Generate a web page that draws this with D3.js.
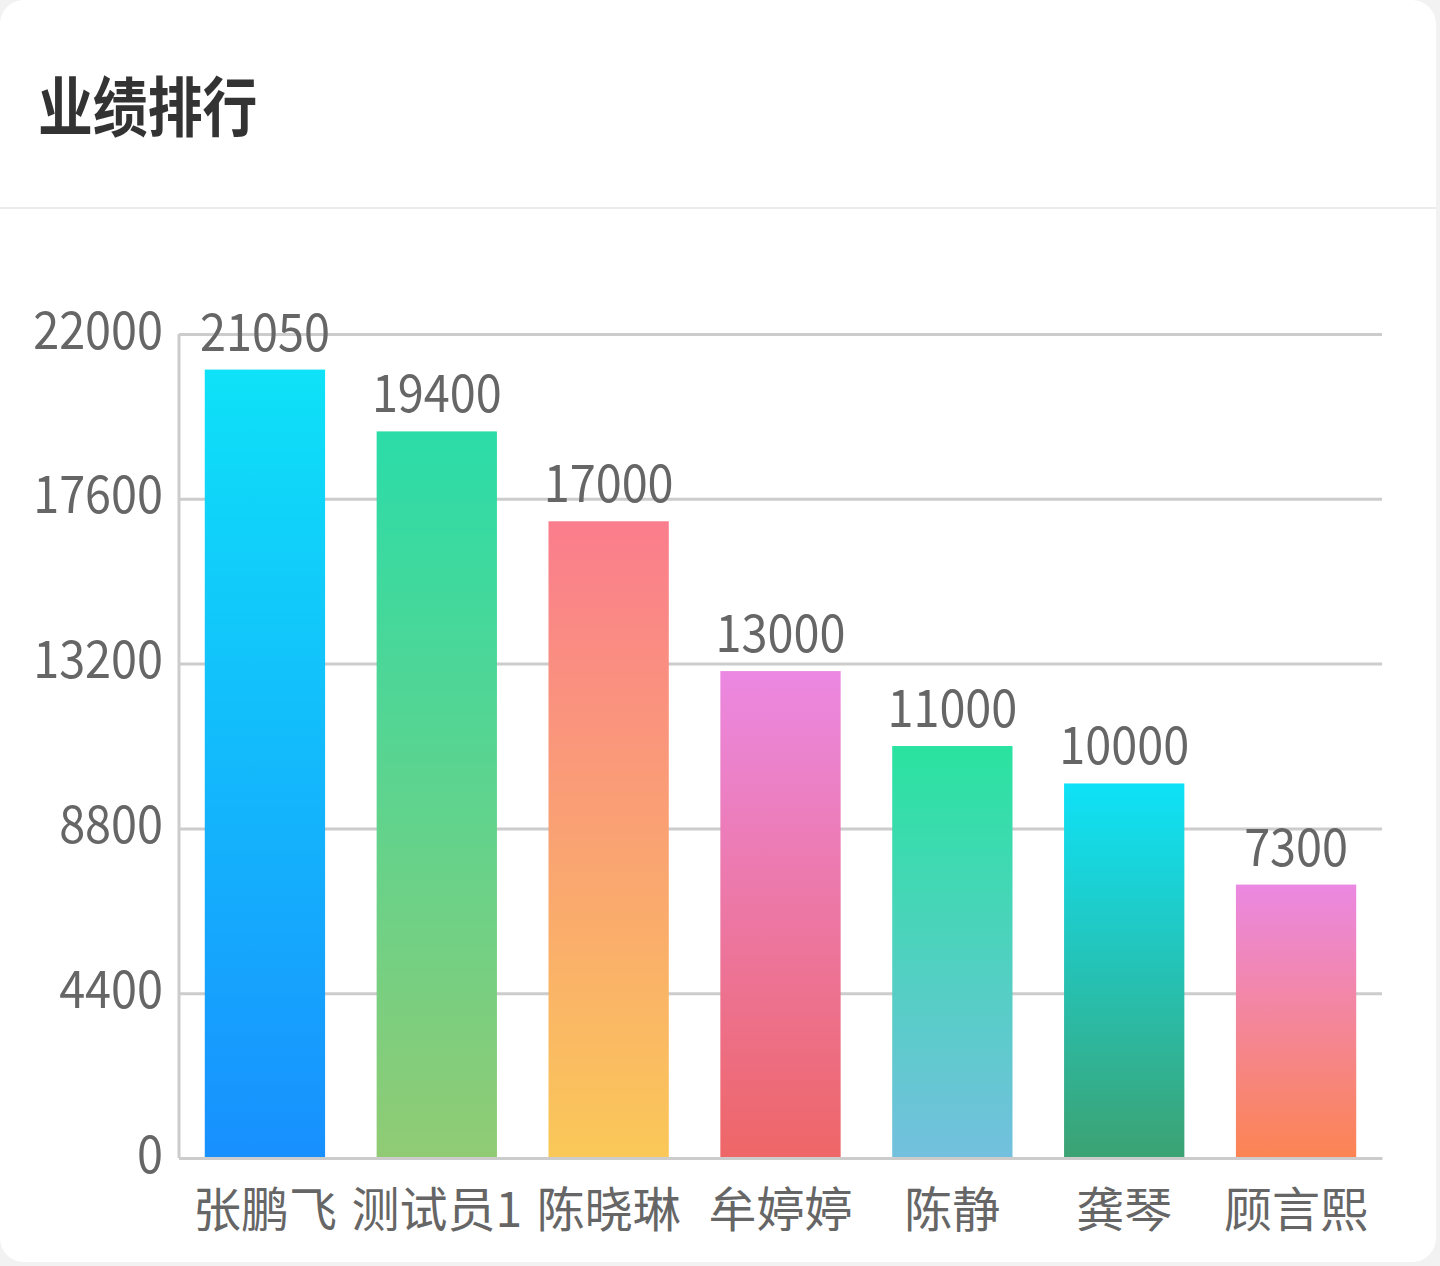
<!DOCTYPE html>
<html>
<head>
<meta charset="utf-8">
<script src="https://cdn.jsdelivr.net/npm/d3@7"></script>
<style>
  html, body { margin: 0; padding: 0; background: #f2f2f2; }
  svg { display: block; font-family: "Noto Sans CJK SC", "Noto Sans", sans-serif; }
</style>
</head>
<body>
<div id="chart"></div>
<script>
// chart data
const names = ['张鹏飞', '测试员1', '陈晓琳', '牟婷婷', '陈静', '龚琴', '顾言熙'];
const sales = [21050, 19400, 17000, 13000, 11000, 10000, 7300];
const yTicks = [0, 4400, 8800, 13200, 17600, 22000];
// gradient stops per bar (top -> bottom)
const topColors = ['#0ee2f8', '#2bdca8', '#fa7d8d', '#eb88e2', '#2ae3a0', '#0ee2f8', '#eb88e2'];
const bottomColors = ['#1890ff', '#91cb74', '#fac858', '#ee6666', '#73c0de', '#3ca272', '#fc8452'];

const W = 1440, H = 1266;
const plotLeft = 179, plotRight = 1382, plotTop = 334, plotBottom = 1158;
const numSqueeze = 0.9; // digits in the reference are a bit narrow

let svg = d3.select('#chart')
    .append('svg')
    .attr('width', W)
    .attr('height', H);

// card
svg.append('rect')
    .attr('x', 0).attr('y', 0)
    .attr('width', 1436).attr('height', 1262)
    .attr('rx', 24)
    .attr('fill', '#fff');

svg.append('text')
    .attr('transform', 'translate(38,131) scale(0.885,1.04)')
    .attr('font-size', 62)
    .attr('font-weight', 'bold')
    .attr('fill', '#333')
    .text('业绩排行');

svg.append('line')
    .attr('x1', 0).attr('x2', 1436)
    .attr('y1', 208).attr('y2', 208)
    .attr('stroke', '#ececec')
    .attr('stroke-width', 2);

let x = d3.scaleBand()
    .domain(names)
    .range([plotLeft, plotRight])
    .paddingInner(0.3)
    .paddingOuter(0.15);

let y = d3.scaleLinear()
    .domain([0, 22000])
    .range([plotBottom, plotTop]);

// gradients
let defs = svg.append('defs');
names.forEach((n, i) => {
    let g = defs.append('linearGradient')
        .attr('id', 'grad' + i)
        .attr('x1', 0).attr('y1', 0)
        .attr('x2', 0).attr('y2', 1);
    g.append('stop').attr('offset', '0%').attr('stop-color', topColors[i]);
    g.append('stop').attr('offset', '100%').attr('stop-color', bottomColors[i]);
});

// y axis with gridlines
let yAxis = svg.append('g')
    .attr('transform', `translate(${plotLeft},0)`)
    .call(d3.axisLeft(y)
        .tickValues(yTicks)
        .tickSize(-(plotRight - plotLeft))
        .tickPadding(16)
        .tickFormat(d3.format('d')));

yAxis.select('.domain').remove();
yAxis.selectAll('.tick line')
    .attr('stroke', '#cccccc')
    .attr('stroke-width', 3);
yAxis.selectAll('.tick text')
    .attr('x', 0)
    .attr('dy', 0)
    .attr('transform', `translate(-16,14) scale(${numSqueeze},1)`)
    .attr('font-size', 52)
    .attr('fill', '#666')
    .style('font-family', '"Noto Sans CJK SC", sans-serif');

// left axis line
svg.append('line')
    .attr('x1', plotLeft).attr('x2', plotLeft)
    .attr('y1', y(22000)).attr('y2', y(0))
    .attr('stroke', '#cccccc')
    .attr('stroke-width', 3);

// bars
svg.append('g')
    .selectAll('rect')
    .data(sales)
    .enter()
    .append('rect')
    .attr('x', (d, i) => x(names[i]))
    .attr('y', d => y(d))
    .attr('width', x.bandwidth())
    .attr('height', d => y(0) - y(d))
    .attr('fill', (d, i) => `url(#grad${i})`);

// value labels
svg.append('g')
    .selectAll('text')
    .data(sales)
    .enter()
    .append('text')
    .attr('transform', (d, i) =>
        `translate(${x(names[i]) + x.bandwidth() / 2},${y(d) - 19}) scale(${numSqueeze},1)`)
    .attr('text-anchor', 'middle')
    .attr('font-size', 52)
    .attr('fill', '#666')
    .text(d => d);

// x axis category labels
let xAxis = svg.append('g')
    .attr('transform', `translate(0,${plotBottom})`)
    .call(d3.axisBottom(x).tickSize(0).tickPadding(0));

xAxis.select('.domain')
    .attr('stroke', '#cccccc')
    .attr('stroke-width', 3);
xAxis.selectAll('.tick text')
    .attr('y', 69)
    .attr('dy', 0)
    .attr('font-size', 48)
    .attr('fill', '#666')
    .style('font-family', '"Noto Sans CJK SC", sans-serif');
</script>
</body>
</html>
